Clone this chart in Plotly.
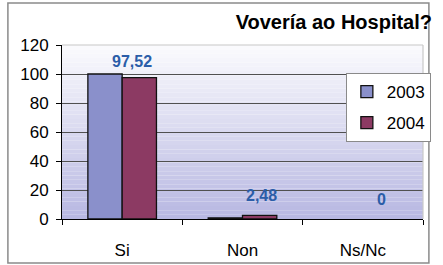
import plotly.graph_objects as go

categories = ["Si", "Non", "Ns/Nc"]
series_names = ["2003", "2004"]
values_2003 = [100, 0.8, 0]
values_2004 = [97.52, 2.48, 0]
label_2004 = ["97,52", "2,48", "0"]
y_ticks = [0, 20, 40, 60, 80, 100, 120]

col_2003 = "#8A90CB"
col_2004 = "#8C3A63"
label_col = "#2B5DA8"
FONT = "Liberation Sans, Arial, sans-serif"

W, H = 443, 265
ml, mr, mt, mb = 62, 14, 45, 46

def outline(vals):
    return [1.3 if v else 0 for v in vals]

fig = go.Figure()
fig.add_trace(go.Bar(x=categories, y=values_2003, name=series_names[0],
                     marker=dict(color=col_2003, line=dict(color="#111", width=outline(values_2003))),
                     legendgroup="a"))
fig.add_trace(go.Bar(x=categories, y=values_2004, name=series_names[1],
                     marker=dict(color=col_2004, line=dict(color="#111", width=outline(values_2004))),
                     legendgroup="b"))

# data labels for 2004
for i, (c, v, t) in enumerate(zip(categories, values_2004, label_2004)):
    fig.add_annotation(x=c, y=v, text=f"<b>{t}</b>", showarrow=False,
                       xref="x", yref="y", xanchor="center", yanchor="bottom",
                       xshift=19 if i else 10, yshift=9 if i else 6,
                       font=dict(family=FONT, size=16, color=label_col))

shapes = []
# gradient background bands
n = 40
top = (250, 250, 253)
bot = (184, 184, 226)
for k in range(n):
    f = k / (n - 1)
    c = tuple(round(top[j] + (bot[j] - top[j]) * f) for j in range(3))
    shapes.append(dict(type="rect", xref="paper", yref="paper",
                       x0=0, x1=1, y0=1 - (k + 1) / n, y1=1 - k / n,
                       fillcolor=f"rgb{c}", line=dict(width=0), layer="below"))
# light top/right border of plot area
shapes.append(dict(type="line", xref="paper", yref="paper", x0=0, x1=1, y0=1, y1=1,
                   line=dict(color="#C8C8C8", width=1.2), layer="above"))
shapes.append(dict(type="line", xref="paper", yref="paper", x0=1, x1=1, y0=0, y1=1,
                   line=dict(color="#C8C8C8", width=1.2), layer="above"))
# outer frame
pw, ph = W - ml - mr, H - mt - mb
def px(x): return (x - ml) / pw
def py(y): return (H - mb - y) / ph
shapes.append(dict(type="rect", xref="paper", yref="paper",
                   x0=px(7), x1=px(435), y0=py(263), y1=py(3),
                   line=dict(color="#8A8A8A", width=1.5), fillcolor="rgba(0,0,0,0)",
                   layer="above"))

fig.update_layout(
    width=W, height=H,
    margin=dict(l=ml, r=mr, t=mt, b=mb),
    paper_bgcolor="white", plot_bgcolor="white",
    barmode="group", bargap=0.43, bargroupgap=0,
    font=dict(family=FONT, size=17, color="black"),
    title=dict(text="<b>Vovería ao Hospital?</b>", xref="container", yref="container",
               x=432 / W, xanchor="right", y=1 - 22 / H, yanchor="middle",
               font=dict(family=FONT, size=20, color="black")),
    shapes=shapes,
    showlegend=True,
    legend=dict(x=px(437), xanchor="right", y=py(73), yanchor="top",
                bgcolor="white", bordercolor="#8A8A8A", borderwidth=1,
                font=dict(family=FONT, size=17), tracegroupgap=6, traceorder="grouped",
                itemwidth=30),
    xaxis=dict(type="category", showline=True, linecolor="black", linewidth=1,
               ticks="outside", ticklen=5, tickcolor="black", tickson="boundaries",
               ticklabelstandoff=16, showgrid=False, fixedrange=True, automargin=False),
    yaxis=dict(range=[0, 120], tickvals=y_ticks, showline=True, linecolor="black",
               linewidth=1, ticks="outside", ticklen=5, tickcolor="black",
               showgrid=True, gridcolor="#505050", gridwidth=1, zeroline=False,
               ticklabelstandoff=4, fixedrange=True, automargin=False),
)

fig.write_html("out.html")
